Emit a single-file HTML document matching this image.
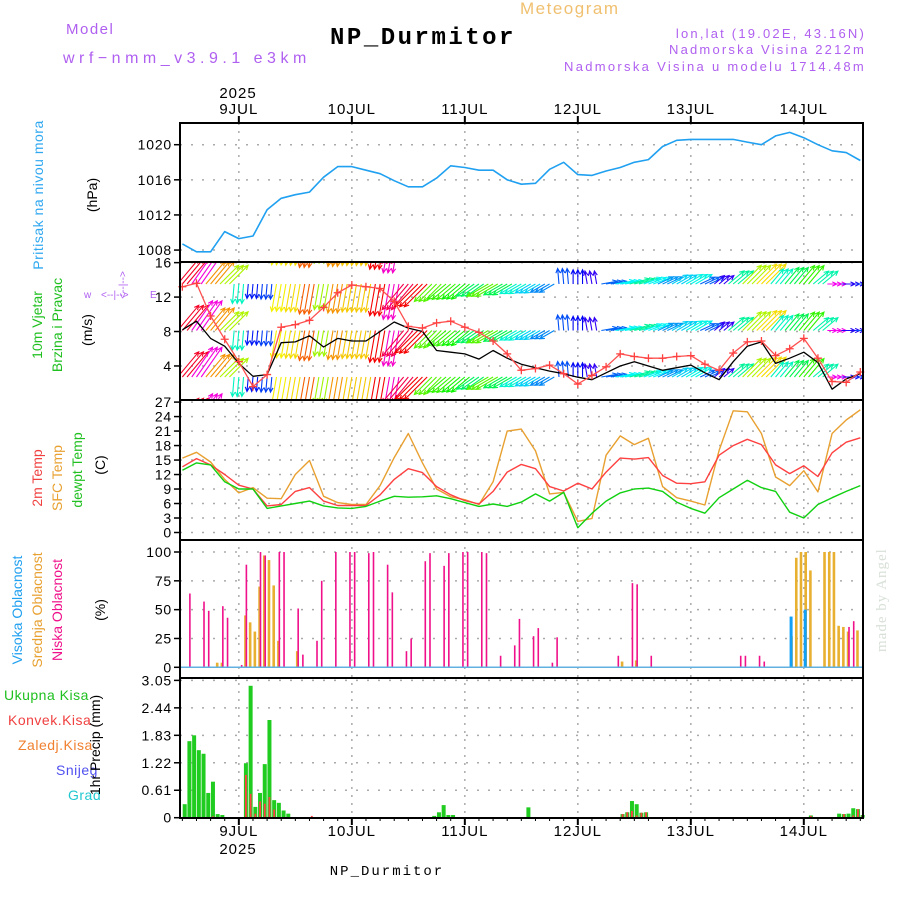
<!DOCTYPE html>
<html><head><meta charset="utf-8"><style>
html,body{margin:0;padding:0;background:#fff;}
svg{display:block;font-family:"Liberation Sans",sans-serif;}
</style></head><body>
<svg id="chart" width="900" height="900" viewBox="0 0 900 900" xmlns="http://www.w3.org/2000/svg">
<rect width="900" height="900" fill="#fff"/>
<text x="520" y="14" font-size="17" fill="#f0c070" letter-spacing="1.5">Meteogram</text>
<text x="66" y="34" font-size="15" fill="#b060f0" letter-spacing="1.5">Model</text>
<text x="63" y="63" font-size="16" fill="#b060f0" letter-spacing="4.5">wrf−nmm_v3.9.1 e3km</text>
<text x="423" y="44" font-size="24" font-weight="bold" text-anchor="middle" fill="#000" font-family="Liberation Mono, monospace" letter-spacing="2.5">NP_Durmitor</text>
<text x="866" y="38" font-size="13" text-anchor="end" fill="#b060f0" letter-spacing="2.2">lon,lat (19.02E, 43.16N)</text>
<text x="866" y="54" font-size="13" text-anchor="end" fill="#b060f0" letter-spacing="2.2">Nadmorska Visina 2212m</text>
<text x="866" y="71" font-size="13" text-anchor="end" fill="#b060f0" letter-spacing="2.3">Nadmorska Visina u modelu 1714.48m</text>
<text x="238" y="98" font-size="15" text-anchor="middle" letter-spacing="1">2025</text>
<text x="238" y="854" font-size="15" text-anchor="middle" letter-spacing="1">2025</text>
<text x="387" y="875" font-size="14" text-anchor="middle" font-family="Liberation Mono, monospace" letter-spacing="2">NP_Durmitor</text>
<text transform="translate(886,652) rotate(-90)" font-size="15" fill="#d8e0d8" font-family="Liberation Serif, serif" letter-spacing="1">made by Angel</text>
<text transform="translate(43,195) rotate(-90)" font-size="14" text-anchor="middle" fill="#30a8f0" letter-spacing="0.5">Pritisak na nivou mora</text>
<text transform="translate(97,195) rotate(-90)" font-size="14" text-anchor="middle">(hPa)</text>
<text transform="translate(42,325) rotate(-90)" font-size="14" text-anchor="middle" fill="#20c020">10m Vjetar</text>
<text transform="translate(62,325) rotate(-90)" font-size="14" text-anchor="middle" fill="#20c020">Brzina i Pravac</text>
<text transform="translate(92,330) rotate(-90)" font-size="14" text-anchor="middle">(m/s)</text>
<g fill="#b060f0" font-size="10">
<text x="84" y="298">w</text><text x="101" y="298">&lt;--|--&gt;</text><text x="150" y="298">E</text>
<text transform="translate(126,285) rotate(-90)" text-anchor="middle">&lt;--|--&gt;</text>
</g>
<text transform="translate(42,478) rotate(-90)" font-size="14" text-anchor="middle" fill="#f04040">2m Temp</text>
<text transform="translate(62,478) rotate(-90)" font-size="14" text-anchor="middle" fill="#e8a030">SFC Temp</text>
<text transform="translate(82,470) rotate(-90)" font-size="14" text-anchor="middle" fill="#20c020">dewpt Temp</text>
<text transform="translate(105,465) rotate(-90)" font-size="14" text-anchor="middle">(C)</text>
<text transform="translate(22,610) rotate(-90)" font-size="14" text-anchor="middle" fill="#20a0f0">Visoka Oblacnost</text>
<text transform="translate(42,610) rotate(-90)" font-size="14" text-anchor="middle" fill="#e8a030">Srednja Oblacnost</text>
<text transform="translate(62,610) rotate(-90)" font-size="14" text-anchor="middle" fill="#f0108a">Niska Oblacnost</text>
<text transform="translate(105,610) rotate(-90)" font-size="14" text-anchor="middle">(%)</text>
<text x="4" y="700" font-size="14" fill="#20c020" letter-spacing="0.5">Ukupna Kisa</text>
<text x="8" y="725" font-size="14" fill="#f04040" letter-spacing="0.5">Konvek.Kisa</text>
<text x="18" y="750" font-size="14" fill="#f08030" letter-spacing="0.5">Zaledj.Kisa</text>
<text x="56" y="775" font-size="14" fill="#5050f0" letter-spacing="0.5">Snijeg</text>
<text x="68" y="800" font-size="14" fill="#20c8d0" letter-spacing="0.5">Grad</text>
<text transform="translate(100,745) rotate(-90)" font-size="14" text-anchor="middle">1hr Precip (mm)</text>
<defs><clipPath id="windClip"><rect x="180" y="262" width="683" height="138"/></clipPath></defs>
<g id="grid"></g><g id="marks"></g><g id="frames"></g>
</svg>
<script>
const hours3 = [0,3,6,9,12,15,18,21,24,27,30,33,36,39,42,45,48,51,54,57,60,63,66,69,72,75,78,81,84,87,90,93,96,99,102,105,108,111,114,117,120,123,126,129,132,135,138,141,144];
const pressure = [1008.7,1007.8,1007.8,1010.1,1009.3,1009.6,1012.6,1013.9,1014.3,1014.6,1016.3,1017.5,1017.5,1017.1,1016.7,1015.9,1015.2,1015.2,1016.2,1017.6,1017.4,1017.1,1017.1,1016.0,1015.5,1015.6,1017.2,1018.0,1016.6,1016.5,1017.0,1017.4,1018.0,1018.3,1019.8,1020.5,1020.6,1020.6,1020.6,1020.6,1020.3,1020.0,1021.0,1021.4,1020.8,1020.0,1019.3,1019.1,1018.2];
const windSpeed = [8.2,9.2,7.2,6.3,4.3,2.8,3.0,6.7,6.8,7.5,6.2,7.2,6.9,6.9,8.0,9.1,8.4,8.0,5.8,5.6,5.4,4.8,5.8,4.9,4.2,3.8,3.4,3.1,2.7,2.4,3.2,4.0,4.5,4.0,3.5,3.8,4.1,3.2,2.4,4.5,6.3,6.8,4.3,4.9,5.6,4.4,1.3,2.5,3.1];
const windGust = [13.2,13.6,9.8,7.1,4.5,1.6,3.0,8.5,8.8,9.3,10.8,12.5,13.4,13.2,13.0,11.5,8.6,8.4,9.0,9.2,8.5,7.9,6.9,5.4,3.5,3.7,4.1,3.1,1.9,2.9,3.9,5.4,5.1,4.9,4.9,5.1,5.2,4.2,3.5,5.5,6.8,6.9,5.2,6.0,7.2,4.9,2.2,2.1,3.3];
const windDir = [50,55,50,45,-95,-95,-95,-100,-100,-100,-100,-100,-100,-100,-100,-100,-130,-135,-135,-140,-140,-145,-150,-150,-150,-150,-150,95,90,100,10,10,15,20,25,30,30,25,40,40,45,45,50,50,50,40,0,0,0];
const temp2m = [13.6,15.3,14.0,12.0,9.8,9.0,5.5,5.8,8.5,9.3,6.5,5.6,5.6,5.6,7.8,11.0,13.2,12.4,9.5,7.8,6.6,5.9,8.5,12.5,14.1,13.2,9.5,8.6,10.2,9.0,12.5,15.4,15.2,15.5,11.8,10.2,10.1,10.5,16.0,18.0,19.3,18.2,14.0,12.2,13.8,11.6,16.5,18.7,19.6];
const tempSfc = [15.4,16.6,14.6,11.0,8.2,9.3,7.1,7.0,12.0,14.9,7.5,6.2,5.8,5.8,9.7,15.5,20.5,14.4,9.0,7.4,6.8,5.8,10.5,21.0,21.4,16.9,8.0,8.3,2.3,2.9,16.0,20.0,18.2,19.5,9.5,7.2,6.5,5.7,17.0,25.2,25.0,20.5,11.5,9.7,12.8,8.4,20.5,23.3,25.4];
const tempDew = [12.9,14.4,14.0,10.5,9.0,9.0,5.0,5.5,6.0,6.5,5.5,5.1,5.0,5.4,6.5,7.5,7.3,7.4,7.6,7.0,6.2,5.4,5.9,5.4,6.3,8.0,6.5,8.3,1.0,4.0,6.5,8.2,9.0,9.2,8.5,6.3,5.0,4.0,7.2,9.0,10.8,9.3,8.5,4.2,3.0,5.8,7.2,8.5,9.7];
const lowCloudHours = [1,4,5,8,9,12,13,16,17,20,21,24,25,28,29,32,35,36,39,40,43,44,47,48,51,52,55,56,59,60,63,64,67,70,71,74,75,78,79,92,95,96,99,118,119,122,123,141,142];
const lowCloud = [64,57,49,53,43,2,89,100,97,100,100,51,11,23,75,100,100,100,99,100,89,65,14,25,92,99,88,99,100,100,100,99,10,19,42,27,34,4,26,10,73,72,10,10,10,10,5,35,40];
const midCloudHours = [7,8,13,14,15,16,17,18,19,20,24,93,96,129,130,131,132,133,136,137,138,139,140,141,143];
const midCloud = [4,4,45,39,31,70,97,93,71,23,14,5,6,27,95,100,100,84,100,100,100,36,35,31,32];
const highCloudHours = [129,132];
const highCloud = [44,50];
const precipHours = [0,1,2,3,4,5,6,7,8,13,14,15,16,17,18,19,20,21,22,53,54,55,56,57,73,93,94,95,96,97,98,133,139,140,141,142,143,144];
const precipTotal = [0.30,1.70,1.83,1.50,1.42,0.55,0.80,0.08,0.06,1.21,2.93,0.24,0.55,1.19,2.17,0.39,0.33,0.16,0.09,0.04,0.12,0.28,0.06,0.06,0.23,0.08,0.12,0.37,0.30,0.11,0.12,0.05,0.09,0.08,0.09,0.21,0.19,0.06];
const convHours = [6,13,14,15,16,17,18,19,27,93,94,95,96,97,98,133,140,142,143,144];
const convPrecip = [0.03,0.95,0.53,0.09,0.36,0.31,0.46,0.18,0.04,0.08,0.12,0.15,0.05,0.11,0.12,0.04,0.08,0.05,0.19,0.06];
const dayLabels = ["9JUL","10JUL","11JUL","12JUL","13JUL","14JUL"];
const dayHours = [12,36,60,84,108,132];
const pTicks = [1008,1012,1016,1020];
const wTicks = [4,8,12,16];
const tTicks = [0,3,6,9,12,15,18,21,24,27];
const cTicks = [0,25,50,75,100];
const rTicks = ["0","0.61","1.22","1.83","2.44","3.05"];

const L=180, R=863;
const X = h => L + (h+0.5)*4.708;
const yP = v => 144.7 + (1020-v)*8.78;
const yW = v => 400.4 - v*8.61;
const yT = v => 532.5 - v*4.83;
const yC = v => 667.3 - v*1.153;
const yR = v => 817.7 - v*45.02;
const NS="http://www.w3.org/2000/svg";
const grid=document.getElementById('grid'), marks=document.getElementById('marks'), frames=document.getElementById('frames');
function mk(tag, attrs, parent){const e=document.createElementNS(NS,tag);for(const k in attrs)e.setAttribute(k,attrs[k]);parent.appendChild(e);return e;}
const panels=[[123,262],[262,400],[400,540],[540,678],[678,818]];
dayHours.forEach((h,i)=>{
  const g=mk('line',{x1:X(h),x2:X(h),y1:123,y2:818,stroke:'#aaa','stroke-width':1.5,'stroke-dasharray':'2,6'},grid);
  
  
  const t1=mk('text',{x:X(h),y:114,'font-size':15,'text-anchor':'middle','letter-spacing':1},grid);
  t1.textContent=dayLabels[i];
  
  
  const t2=mk('text',{x:X(h),y:836,'font-size':15,'text-anchor':'middle','letter-spacing':1},grid);
  t2.textContent=dayLabels[i];
  
  
  mk('line',{x1:X(h),x2:X(h),y1:818,y2:825,stroke:'#000','stroke-width':2},frames);
  mk('line',{x1:X(h),x2:X(h),y1:116,y2:123,stroke:'#000','stroke-width':2},frames);
});
hours3.forEach(h=>{ mk('line',{x1:X(h),x2:X(h),y1:818,y2:821,stroke:'#000','stroke-width':1},frames); });
function hgrid(ticks, yf, labels, name){
  ticks.forEach((v,i)=>{
    const y=yf(v);
    const g=mk('line',{x1:L,x2:R,y1:y,y2:y,stroke:'#aaa','stroke-width':1.5,'stroke-dasharray':'2,9'},grid);
    
    
    mk('line',{x1:L-6,x2:L,y1:y,y2:y,stroke:'#000','stroke-width':1.5},frames);
    const t=mk('text',{x:L-8,y:y+5,'font-size':14,'text-anchor':'end','letter-spacing':0.8},frames);
    t.textContent=labels?labels[i]:v;
    
    
  });
}
hgrid(pTicks,yP,null,'pressure');
hgrid(wTicks,yW,null,'wind');
hgrid(tTicks,yT,null,'temp');
hgrid(cTicks,yC,null,'cloud');
hgrid(rTicks.map(Number),yR,rTicks,'precip');
function line(vals,yf,color,w,name){
  const d=vals.map((v,i)=>(i?'L':'M')+X(hours3[i]).toFixed(1)+','+yf(v).toFixed(1)).join('');
  const p=mk('path',{d:d,fill:'none',stroke:color,'stroke-width':w,'stroke-linejoin':'round'},marks);
  
  
  return p;
}
line(pressure,yP,'#20a0f0',1.6,'pressure-line');
const wg=mk('g',{'clip-path':'url(#windClip)'},marks);


const rows=[423.5,377,330.5,284,237.5];
windSpeed.forEach((s,i)=>{
  const a=windDir[i]*Math.PI/180; const len=s*3.4+5;
  let hue=(270-(s-2)*45)%360; if(hue<0)hue+=360;
  const col='hsl('+hue.toFixed(0)+',100%,48%)';
  [-1,0,1].forEach(dh=>{
    const x=X(hours3[i]+dh);
    rows.forEach(by=>{
      const x2=x+len*Math.cos(a), y2=by-len*Math.sin(a);
      const h1=a+Math.PI-0.45, h2=a+Math.PI+0.45;
      const ar=mk('path',{d:`M${x},${by}L${x2},${y2}M${x2+5*Math.cos(h1)},${y2-5*Math.sin(h1)}L${x2},${y2}L${x2+5*Math.cos(h2)},${y2-5*Math.sin(h2)}`,stroke:col,'stroke-width':1.1,fill:'none'},wg);
      
      
    });
  });
});
line(windSpeed,yW,'#000',1.3,'wind-speed-line');
line(windGust,yW,'#ff5050',1.3,'wind-gust-line');
windGust.forEach((v,i)=>{
  const x=X(hours3[i]),y=yW(v);
  const m=mk('path',{d:`M${x-4},${y}H${x+4}M${x},${y-4}V${y+4}`,stroke:'#ff4040','stroke-width':1.3},marks);
  
  
});
line(tempSfc,yT,'#e8a030',1.4,'sfc-temp-line');
line(temp2m,yT,'#ff4040',1.4,'2m-temp-line');
line(tempDew,yT,'#10d010',1.4,'dewpoint-line');
function bars(hrs,vals,yf,color,w,off,name){
  hrs.forEach((h,i)=>{
    const y=yf(vals[i]), y0=yf(0);
    const b=mk('rect',{x:X(h+off)-w/2,y:y,width:w,height:Math.max(0.5,y0-y),fill:color},marks);
    
    
  });
}
bars(midCloudHours,midCloud,yC,'#e8b030',2.6,0.4,'mid-cloud-bar');
bars(lowCloudHours,lowCloud,yC,'#f0108a',1.6,0.6,'low-cloud-bar');
bars(highCloudHours,highCloud,yC,'#10a0f8',3,0.3,'high-cloud-bar');
mk('line',{x1:L,x2:R,y1:yC(0),y2:yC(0),stroke:'#60b0e0','stroke-width':1.5},marks);
bars(precipHours,precipTotal,yR,'#20cc20',4,0.5,'total-precip-bar');
bars(convHours,convPrecip,yR,'#ff4040',1.8,0.5,'conv-precip-bar');
mk('line',{x1:L,x2:R,y1:yR(0),y2:yR(0),stroke:'#000','stroke-width':1.5,'stroke-dasharray':'6,3'},marks);
panels.forEach(([t,b])=>{ mk('rect',{x:L,y:t,width:R-L,height:b-t,fill:'none',stroke:'#000','stroke-width':2},frames); });
</script>
</body></html>
